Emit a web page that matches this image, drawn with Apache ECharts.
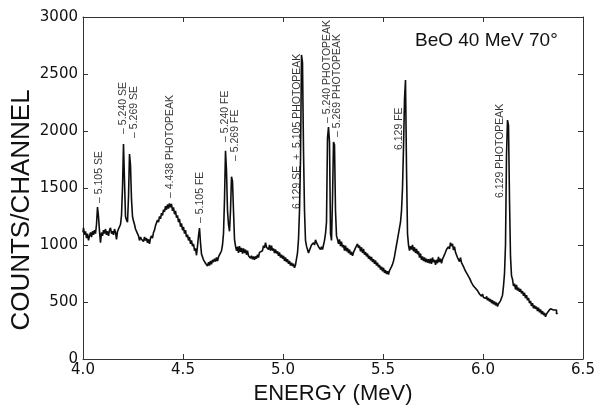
<!DOCTYPE html>
<html>
<head>
<meta charset="utf-8">
<script src="https://cdn.jsdelivr.net/npm/echarts@6/dist/echarts.min.js"></script>
<style>html,body{margin:0;padding:0;background:#fff}#c{width:598px;height:410px}</style>
</head>
<body>
<div id="c"></div>
<script>
// Spectrum: [energy (MeV), counts/channel]
const spectrum = [
[4.000,1110],[4.005,1150],[4.010,1090],[4.015,1120],[4.020,1060],[4.025,1100],[4.030,1040],[4.035,1080],[4.040,1110],[4.045,1070],
[4.050,1120],[4.055,1090],[4.060,1130],[4.065,1100],[4.070,1180],[4.075,1333],[4.080,1250],[4.085,1120],[4.090,1020],[4.095,1110],
[4.100,1080],[4.105,1130],[4.110,1100],[4.115,1140],[4.120,1090],[4.125,1120],[4.130,1080],[4.135,1130],[4.140,1150],[4.145,1100],
[4.150,1120],[4.155,1090],[4.160,1140],[4.165,1110],[4.170,1050],[4.175,1120],[4.180,1140],[4.185,1130],[4.190,1180],[4.195,1260],
[4.200,1500],[4.205,1886],[4.210,1560],[4.215,1250],[4.220,1220],[4.225,1200],[4.230,1420],[4.235,1798],[4.240,1700],[4.245,1400],
[4.250,1250],[4.255,1210],[4.260,1180],[4.265,1140],[4.270,1130],[4.275,1100],[4.280,1080],[4.285,1040],[4.290,1070],[4.295,1050],
[4.300,1060],[4.305,1030],[4.310,1070],[4.315,1040],[4.320,1060],[4.325,1020],[4.330,1050],[4.335,1010],[4.340,1060],[4.345,1080],
[4.350,1060],[4.355,1110],[4.360,1130],[4.365,1170],[4.370,1160],[4.375,1220],[4.380,1200],[4.385,1250],[4.390,1230],[4.395,1280],
[4.400,1260],[4.405,1310],[4.410,1290],[4.415,1340],[4.420,1310],[4.425,1355],[4.430,1320],[4.435,1365],[4.440,1330],[4.445,1360],
[4.450,1300],[4.455,1330],[4.460,1270],[4.465,1300],[4.470,1240],[4.475,1260],[4.480,1200],[4.485,1230],[4.490,1160],[4.495,1190],
[4.500,1130],[4.505,1160],[4.510,1100],[4.515,1130],[4.520,1070],[4.525,1090],[4.530,1040],[4.535,1070],[4.540,1010],[4.545,1040],
[4.550,990],[4.555,1010],[4.560,950],[4.565,970],[4.570,910],[4.575,990],[4.580,1080],[4.585,1149],[4.590,1020],[4.595,920],
[4.600,910],[4.605,870],[4.610,880],[4.615,840],[4.620,850],[4.625,815],[4.630,850],[4.635,820],[4.640,860],[4.645,830],
[4.650,870],[4.655,850],[4.660,880],[4.665,855],[4.670,890],[4.675,860],[4.680,895],[4.685,880],[4.690,930],[4.695,950],
[4.700,1000],[4.705,1100],[4.710,1400],[4.715,1827],[4.720,1650],[4.725,1300],[4.730,1180],[4.735,1120],[4.740,1300],[4.745,1599],
[4.750,1560],[4.755,1300],[4.760,1050],[4.765,990],[4.770,950],[4.775,985],[4.780,930],[4.785,990],[4.790,940],[4.795,975],
[4.800,925],[4.805,970],[4.810,930],[4.815,960],[4.820,915],[4.825,950],[4.830,905],[4.835,920],[4.840,885],[4.845,905],
[4.850,875],[4.855,900],[4.860,870],[4.865,900],[4.870,880],[4.875,915],[4.880,890],[4.885,935],[4.890,920],[4.895,950],
[4.900,945],[4.905,995],[4.910,975],[4.915,1020],[4.920,980],[4.925,995],[4.930,960],[4.935,1000],[4.940,950],[4.945,995],
[4.950,950],[4.955,970],[4.960,930],[4.965,960],[4.970,925],[4.975,945],[4.980,905],[4.985,935],[4.990,890],[4.995,915],
[5.000,880],[5.005,905],[5.010,860],[5.015,890],[5.020,850],[5.025,875],[5.030,835],[5.035,860],[5.040,820],[5.045,845],
[5.050,815],[5.055,835],[5.060,800],[5.065,825],[5.070,840],[5.075,930],[5.080,1050],[5.085,1300],[5.090,1750],[5.095,2667],
[5.100,2600],[5.105,1830],[5.110,1300],[5.115,1040],[5.120,990],[5.125,960],[5.130,930],[5.135,955],[5.140,950],[5.145,1000],
[5.150,985],[5.155,1020],[5.160,1000],[5.165,1045],[5.170,1020],[5.175,1030],[5.180,985],[5.185,1000],[5.190,960],[5.195,985],
[5.200,960],[5.205,1000],[5.210,1040],[5.215,1100],[5.220,1200],[5.225,1940],[5.230,2035],[5.235,1900],[5.240,1100],[5.245,1040],
[5.250,1400],[5.255,1904],[5.260,1880],[5.265,1300],[5.270,1080],[5.275,1050],[5.280,1010],[5.285,1050],[5.290,990],[5.295,1030],
[5.300,980],[5.305,1000],[5.310,950],[5.315,995],[5.320,945],[5.325,975],[5.330,930],[5.335,960],[5.340,915],[5.345,940],
[5.350,905],[5.355,935],[5.360,930],[5.365,975],[5.370,960],[5.375,1010],[5.380,975],[5.385,995],[5.390,945],[5.395,980],
[5.400,930],[5.405,965],[5.410,915],[5.415,940],[5.420,900],[5.425,925],[5.430,880],[5.435,905],[5.440,865],[5.445,895],
[5.450,850],[5.455,875],[5.460,835],[5.465,865],[5.470,820],[5.475,845],[5.480,805],[5.485,825],[5.490,785],[5.495,810],
[5.500,770],[5.505,800],[5.510,755],[5.515,780],[5.520,745],[5.525,770],[5.530,740],[5.535,775],[5.540,770],[5.545,810],
[5.550,830],[5.555,860],[5.560,900],[5.565,950],[5.570,1000],[5.575,1050],[5.580,1100],[5.585,1150],[5.590,1200],[5.595,1300],
[5.600,1500],[5.605,1850],[5.610,2280],[5.615,2447],[5.620,1680],[5.625,1100],[5.630,1000],[5.635,950],[5.640,990],[5.645,960],
[5.650,1000],[5.655,945],[5.660,980],[5.665,930],[5.670,965],[5.675,920],[5.680,945],[5.685,890],[5.690,925],[5.695,870],
[5.700,900],[5.705,860],[5.710,890],[5.715,850],[5.720,880],[5.725,845],[5.730,875],[5.735,840],[5.740,880],[5.745,835],
[5.750,890],[5.755,850],[5.760,870],[5.765,825],[5.770,870],[5.775,840],[5.780,895],[5.785,850],[5.790,880],[5.795,840],
[5.800,875],[5.805,870],[5.810,915],[5.815,900],[5.820,960],[5.825,950],[5.830,985],[5.835,965],[5.840,1020],[5.845,990],
[5.850,1010],[5.855,955],[5.860,985],[5.865,935],[5.870,945],[5.875,890],[5.880,905],[5.885,855],[5.890,890],[5.895,845],
[5.900,860],[5.905,810],[5.910,815],[5.915,770],[5.920,785],[5.925,740],[5.930,755],[5.935,710],[5.940,715],[5.945,670],
[5.950,685],[5.955,640],[5.960,655],[5.965,620],[5.970,635],[5.975,600],[5.980,605],[5.985,570],[5.990,585],[5.995,550],
[6.000,570],[6.005,540],[6.010,555],[6.015,530],[6.020,550],[6.025,515],[6.030,535],[6.035,505],[6.040,525],[6.045,490],
[6.050,515],[6.055,480],[6.060,505],[6.065,470],[6.070,495],[6.075,460],[6.080,485],[6.085,480],[6.090,510],[6.095,520],
[6.100,560],[6.105,640],[6.110,750],[6.115,1000],[6.120,1790],[6.125,2096],[6.130,2050],[6.135,1400],[6.140,900],[6.145,730],
[6.150,700],[6.155,640],[6.160,660],[6.165,610],[6.170,650],[6.175,600],[6.180,625],[6.185,590],[6.190,615],[6.195,575],
[6.200,595],[6.205,555],[6.210,580],[6.215,535],[6.220,560],[6.225,515],[6.230,535],[6.235,490],[6.240,510],[6.245,465],
[6.250,490],[6.255,445],[6.260,470],[6.265,440],[6.270,460],[6.275,420],[6.280,450],[6.285,410],[6.290,435],[6.295,395],
[6.300,420],[6.305,385],[6.310,405],[6.315,370],[6.320,395],[6.325,395],[6.330,420],[6.335,405],[6.340,440],[6.345,455],
[6.350,430],[6.355,445],[6.360,420],[6.365,430],[6.370,395],[6.375,405]
];

// Peak annotations: anchor (bottom of rotated text) in data coords
const annoEnergy = [4.082, 4.200, 4.255, 4.435, 4.585, 4.713, 4.763, 5.071, 5.222, 5.270, 5.580, 6.088];
const annoCounts = [1368, 1974, 1939, 1412, 1193, 1904, 1737, 1316, 2070, 1947, 1833, 1412];
const annoText = [
  '\u2013 5.105 SE', '\u2013 5.240 SE', '\u2013 5.269 SE', '\u2013 4.438 PHOTOPEAK',
  '\u2013 5.105 FE', '\u2013 5.240 FE', '\u2013 5.269 FE', '6.129 SE  +  5.105 PHOTOPEAK',
  '\u2013 5.240 PHOTOPEAK', '\u2013 5.269 PHOTOPEAK', '6.129 FE', '6.129 PHOTOPEAK'
];

const xTickLabels = ['4.0', '4.5', '5.0', '5.5', '6.0', '6.5'];
const yTickLabels = ['0', '500', '1000', '1500', '2000', '2500', '3000'];
const titleText = 'BeO 40 MeV 70\u00B0';
const xName = 'ENERGY (MeV)';
const yName = 'COUNTS/CHANNEL';

const chart = echarts.init(document.getElementById('c'), null, {renderer: 'canvas'});
const lineCol = '#0d0d0d';
const frameCol = '#333';
const tickFont = {fontFamily: 'DejaVu Sans', fontSize: 15, color: '#111'};

const baseAxis = {
  axisLine: {show: true, onZero: false, lineStyle: {color: frameCol, width: 1}},
  axisTick: {show: true, inside: true, length: 5, lineStyle: {color: frameCol, width: 1}},
  splitLine: {show: false}
};

chart.setOption({
  animation: false,
  backgroundColor: '#fff',
  grid: {left: 83, right: 15, top: 17, bottom: 51, containLabel: false},
  xAxis: [
    Object.assign({}, baseAxis, {
      type: 'value', min: 4.0, max: 6.5, interval: 0.5, position: 'bottom',
      axisLabel: Object.assign({margin: 4, formatter: (v) => xTickLabels[Math.round((v - 4.0) / 0.5)]}, tickFont),
      name: xName, nameLocation: 'middle', nameGap: 23,
      nameTextStyle: {fontFamily: 'Liberation Sans', fontSize: 22, color: '#111'}
    }),
    Object.assign({}, baseAxis, {
      type: 'value', min: 4.0, max: 6.5, interval: 0.5, position: 'top',
      axisLabel: {show: false}
    })
  ],
  yAxis: [
    Object.assign({}, baseAxis, {
      type: 'value', min: 0, max: 3000, interval: 500, position: 'left',
      axisLabel: Object.assign({margin: 5, formatter: (v) => yTickLabels[Math.round(v / 500)]}, tickFont)
    }),
    Object.assign({}, baseAxis, {
      type: 'value', min: 0, max: 3000, interval: 500, position: 'right',
      axisLabel: {show: false}
    })
  ],
  graphic: [
    {type: 'text', x: 22, y: 210, rotation: Math.PI / 2,
     style: {text: yName, fontFamily: 'Liberation Sans', fontSize: 26, fill: '#111', align: 'center', verticalAlign: 'middle'}},
    {type: 'text', x: 415, y: 41,
     style: {text: titleText, fontFamily: 'Liberation Sans', fontSize: 19, fill: '#111', align: 'left', verticalAlign: 'middle'}}
  ],
  series: [
    {
      type: 'line', step: 'middle', showSymbol: false, symbol: 'none',
      data: spectrum, xAxisIndex: 0, yAxisIndex: 0,
      lineStyle: {color: lineCol, width: 1.6}, z: 3
    },
    {
      type: 'scatter', symbolSize: 0, xAxisIndex: 0, yAxisIndex: 0, z: 4,
      data: annoEnergy.map((e, i) => [e, annoCounts[i]]),
      label: {
        show: true, position: 'inside', rotate: 90, align: 'left', verticalAlign: 'middle',
        formatter: (p) => annoText[p.dataIndex],
        fontFamily: 'Liberation Sans', fontSize: 10.5, color: '#000'
      },
      emphasis: {disabled: true}, silent: true
    }
  ]
});
</script>
</body>
</html>
